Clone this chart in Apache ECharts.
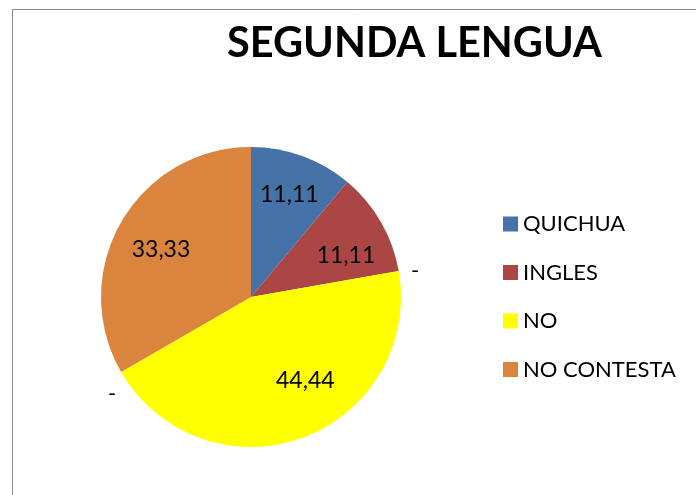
<!DOCTYPE html>
<html>
<head>
<meta charset="utf-8">
<script src="https://cdn.jsdelivr.net/npm/echarts@6/dist/echarts.min.js"></script>
<style>
  html, body { margin: 0; padding: 0; background: #fff; }
  #main { width: 696px; height: 495px; }
</style>
</head>
<body>
<div id="main"></div>
<script>
const categories = ["QUICHUA", "INGLES", "NO", "NO CONTESTA"];
const values = [11.11, 11.11, 44.44, 33.33];
const colors = ["#4572A7", "#AA4643", "#FFFF00", "#DB843D"];

const chart = echarts.init(document.getElementById("main"), null, { renderer: "canvas" });

// small label nudges so the numbers sit where Excel put them
const labelShift = [[0, 3], [-2, 15], [16, -22], [7, 9]];

const option = {
  animation: false,
  textStyle: { fontFamily: "Lato" },
  title: {
    text: "SEGUNDA LENGUA",
    left: 227,
    top: 23,
    padding: 0,
    textStyle: {
      fontFamily: "Lato",
      fontSize: 41.5,
      fontWeight: "bold",
      color: "#000",
    },
  },
  legend: {
    orient: "vertical",
    left: 503,
    top: 213,
    padding: 0,
    itemWidth: 15,
    itemHeight: 15,
    itemGap: 26.5,
    icon: "rect",
    data: categories,
    textStyle: { fontFamily: "Lato", fontSize: 22, color: "#000" },
  },
  graphic: [
    {
      type: "rect",
      shape: { x: 12.5, y: 9.5, width: 720, height: 520 },
      style: { fill: "none", stroke: "#888", lineWidth: 1 },
      silent: true,
    },
    {
      type: "text",
      left: 411,
      top: 260,
      style: { text: "-", font: "22px Lato", fill: "#000" },
    },
    {
      type: "text",
      left: 108,
      top: 383,
      style: { text: "-", font: "22px Lato", fill: "#000" },
    },
  ],
  series: [
    {
      type: "pie",
      center: [251, 297],
      radius: [0, 150],
      startAngle: 90,
      clockwise: true,
      data: categories.map((name, i) => ({
        name: name,
        value: values[i],
        itemStyle: { color: colors[i] },
      })),
      label: { show: false },
      labelLine: { show: false },
      itemStyle: { borderWidth: 0 },
      emphasis: { disabled: true },
      z: 2,
    },
    {
      // transparent ring only used to place the slice labels further out
      type: "pie",
      center: [251, 297],
      radius: [68, 150],
      startAngle: 90,
      clockwise: true,
      silent: true,
      data: categories.map((name, i) => ({
        name: name,
        value: values[i],
        label: { offset: labelShift[i] },
      })),
      itemStyle: { color: "rgba(0,0,0,0)", borderWidth: 0 },
      label: {
        show: true,
        position: "inside",
        fontFamily: "Lato",
        fontSize: 23,
        color: "#000",
        formatter: (p) => p.value.toFixed(2).replace(".", ","),
      },
      labelLine: { show: false },
      emphasis: { disabled: true },
      z: 3,
    },
  ],
};

chart.setOption(option);
</script>
</body>
</html>
